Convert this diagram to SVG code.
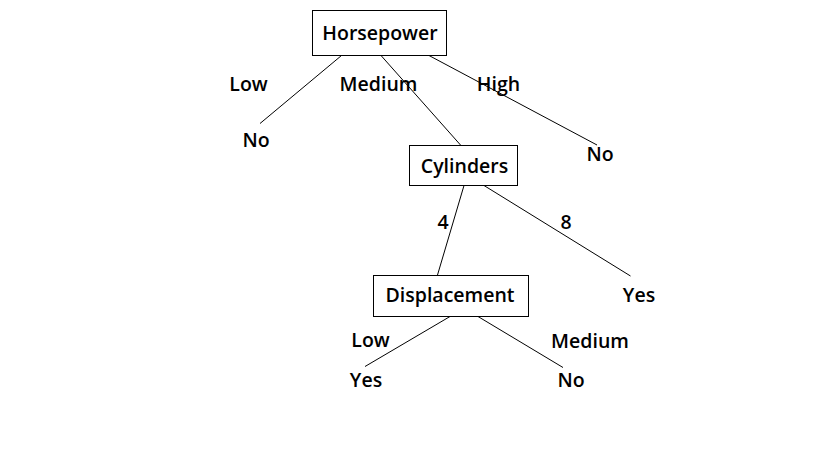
<svg xmlns="http://www.w3.org/2000/svg" width="819" height="460" viewBox="0 0 819 460">
<style>
text{font-family:"Open Sans","Noto Sans","DejaVu Sans",sans-serif;font-size:19.5px;font-weight:600;fill:#000;text-anchor:middle}
rect{fill:#fff;stroke:#000;stroke-width:1}
line{stroke:#000;stroke-width:1}
</style>
<rect x="0" y="0" width="819" height="460" style="stroke:none"/>
<g id="connectors">
<line x1="341.5" y1="55.5" x2="260" y2="123.5"/>
<line x1="381" y1="55.5" x2="460.5" y2="145"/>
<line x1="429" y1="55.5" x2="597" y2="145"/>
<line x1="464" y1="185.5" x2="437.5" y2="275"/>
<line x1="484" y1="185.5" x2="630.5" y2="276"/>
<line x1="450" y1="316.5" x2="365" y2="366.5"/>
<line x1="478" y1="316.5" x2="563" y2="367.5"/>
</g>
<g id="edge-labels">
<text x="248.5" y="91">Low</text>
<text x="378.5" y="91">Medium</text>
<text x="498.5" y="91">High</text>
<text x="443" y="229">4</text>
<text x="566" y="229">8</text>
<text x="370.5" y="347">Low</text>
<text x="590" y="348">Medium</text>
</g>
<g id="horsepower"><rect x="312.5" y="10.5" width="134" height="45"/><text x="380" y="40">Horsepower</text></g>
<g id="no1"><text x="256" y="147">No</text></g>
<g id="no2"><text x="600" y="161">No</text></g>
<g id="cylinders"><rect x="409.5" y="145.5" width="108" height="40"/><text x="464.5" y="173">Cylinders</text></g>
<g id="yes1"><text x="639" y="302">Yes</text></g>
<g id="displacement"><rect x="373.5" y="275.5" width="155" height="41"/><text x="450" y="302">Displacement</text></g>
<g id="yes2"><text x="366" y="387">Yes</text></g>
<g id="no3"><text x="571" y="387">No</text></g>
</svg>
